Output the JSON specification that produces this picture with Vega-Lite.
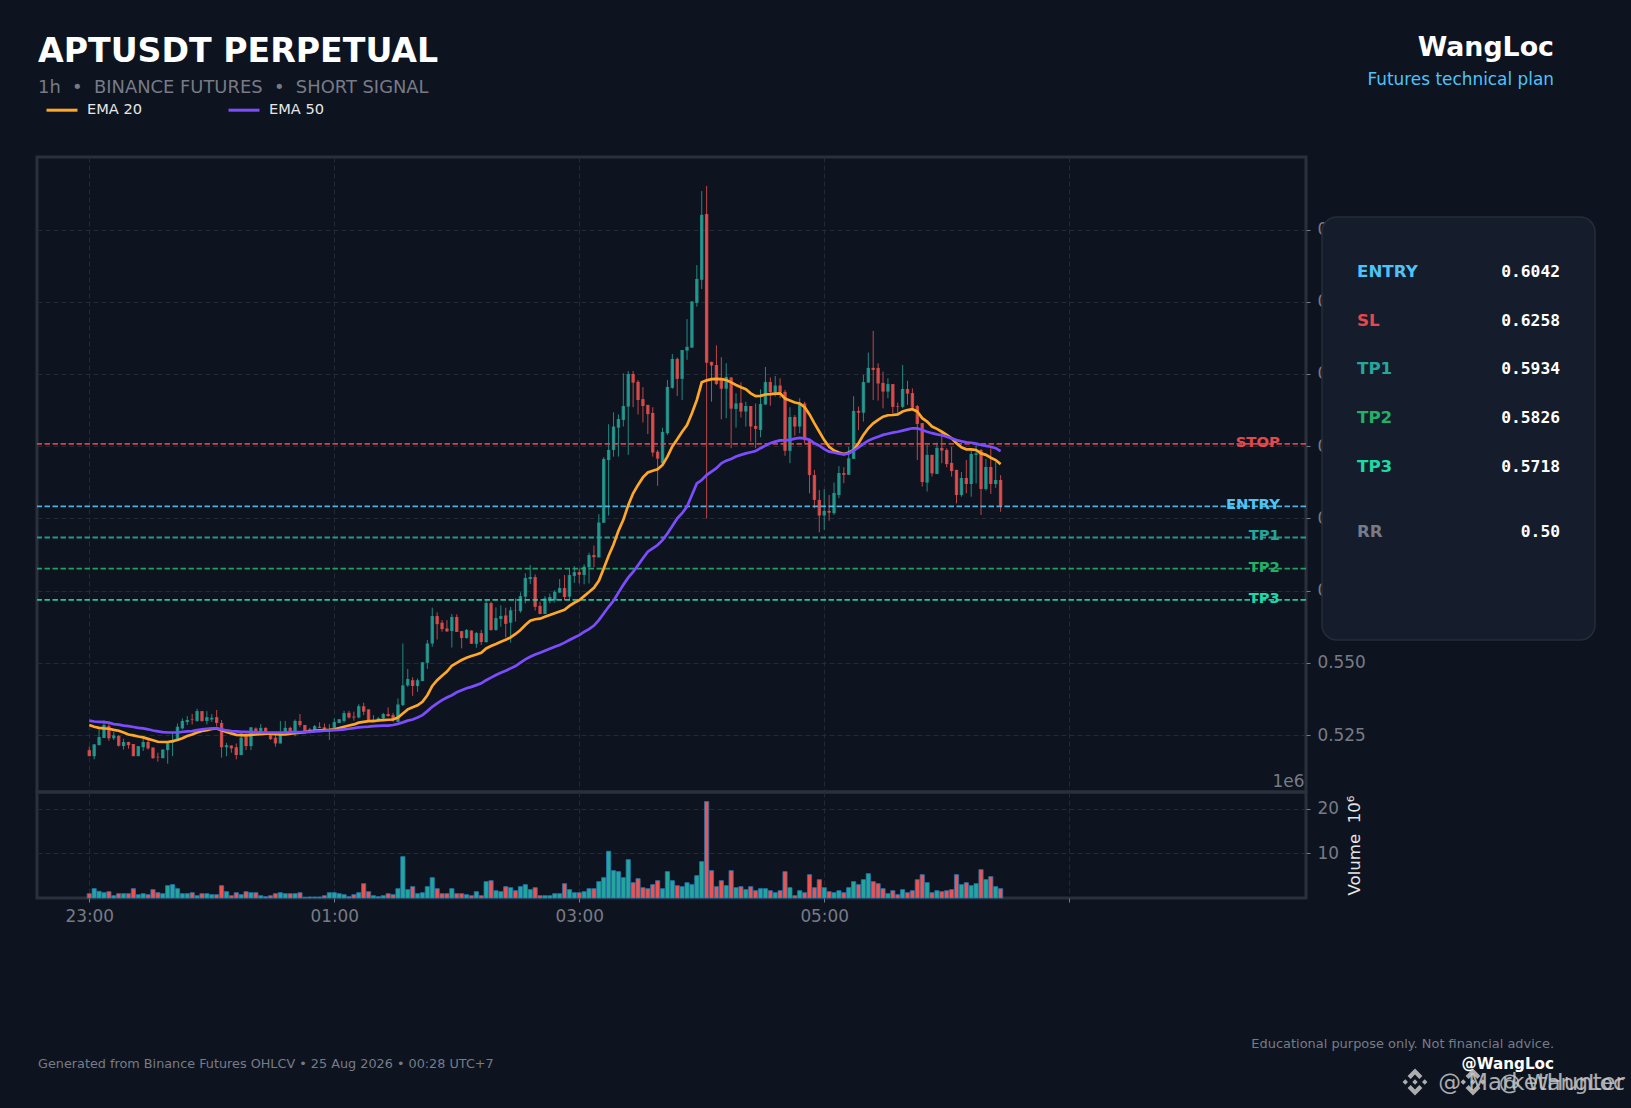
{
"$schema":"https://vega.github.io/schema/vega-lite/v6.json",
"autosize":{"type":"none"},
"padding":{"left":37,"top":157,"right":1594,"bottom":951},
"background":"#0d1420",
"config":{"font":"DejaVu Sans","view":{"stroke":null},"axis":{"labelFont":"DejaVu Sans","labelFontSize":16.9,"labelColor":"#787b86","tickColor":"#787b86","tickSize":4,"gridColor":"#232935","gridDash":[5,3],"gridWidth":1,"domain":false}},
"datasets":{
"levels":[
{"level":"ENTRY","tag":"ENTRY","price":0.6042},
{"level":"SL","tag":"STOP","price":0.6258},
{"level":"TP1","tag":"TP1","price":0.5934},
{"level":"TP2","tag":"TP2","price":0.5826},
{"level":"TP3","tag":"TP3","price":0.5718},
{"level":"RR","price":0.5}
],
"candles":[
{"i":0,"o":0.5198,"h":0.5210,"l":0.5177,"c":0.5177,"v":0.97,"e20":0.5285,"e50":0.5300},
{"i":1,"o":0.5177,"h":0.5218,"l":0.5166,"c":0.5218,"v":2.09,"e20":0.5279,"e50":0.5297},
{"i":2,"o":0.5215,"h":0.5270,"l":0.5215,"c":0.5243,"v":1.49,"e20":0.5275,"e50":0.5296},
{"i":3,"o":0.5240,"h":0.5302,"l":0.5240,"c":0.5285,"v":1.19,"e20":0.5273,"e50":0.5295},
{"i":4,"o":0.5281,"h":0.5290,"l":0.5230,"c":0.5239,"v":1.42,"e20":0.5272,"e50":0.5293},
{"i":5,"o":0.5239,"h":0.5261,"l":0.5233,"c":0.5249,"v":0.52,"e20":0.5268,"e50":0.5288},
{"i":6,"o":0.5247,"h":0.5250,"l":0.5210,"c":0.5213,"v":0.97,"e20":0.5265,"e50":0.5286},
{"i":7,"o":0.5212,"h":0.5237,"l":0.5200,"c":0.5226,"v":0.97,"e20":0.5259,"e50":0.5283},
{"i":8,"o":0.5226,"h":0.5227,"l":0.5203,"c":0.5215,"v":0.97,"e20":0.5252,"e50":0.5281},
{"i":9,"o":0.5219,"h":0.5219,"l":0.5177,"c":0.5177,"v":2.09,"e20":0.5249,"e50":0.5278},
{"i":10,"o":0.5177,"h":0.5212,"l":0.5177,"c":0.5212,"v":0.75,"e20":0.5245,"e50":0.5275},
{"i":11,"o":0.5208,"h":0.5238,"l":0.5195,"c":0.5226,"v":0.97,"e20":0.5242,"e50":0.5273},
{"i":12,"o":0.5226,"h":0.5233,"l":0.5200,"c":0.5204,"v":0.75,"e20":0.5237,"e50":0.5270},
{"i":13,"o":0.5207,"h":0.5207,"l":0.5168,"c":0.5170,"v":1.87,"e20":0.5232,"e50":0.5266},
{"i":14,"o":0.5175,"h":0.5189,"l":0.5158,"c":0.5173,"v":1.19,"e20":0.5227,"e50":0.5263},
{"i":15,"o":0.5170,"h":0.5200,"l":0.5170,"c":0.5200,"v":0.97,"e20":0.5226,"e50":0.5260},
{"i":16,"o":0.5198,"h":0.5227,"l":0.5151,"c":0.5223,"v":2.76,"e20":0.5226,"e50":0.5259},
{"i":17,"o":0.5223,"h":0.5261,"l":0.5177,"c":0.5226,"v":2.99,"e20":0.5229,"e50":0.5259},
{"i":18,"o":0.5233,"h":0.5290,"l":0.5233,"c":0.5279,"v":2.09,"e20":0.5233,"e50":0.5259},
{"i":19,"o":0.5273,"h":0.5308,"l":0.5270,"c":0.5299,"v":0.97,"e20":0.5239,"e50":0.5261},
{"i":20,"o":0.5295,"h":0.5316,"l":0.5285,"c":0.5302,"v":0.97,"e20":0.5247,"e50":0.5263},
{"i":21,"o":0.5304,"h":0.5323,"l":0.5287,"c":0.5302,"v":1.19,"e20":0.5252,"e50":0.5264},
{"i":22,"o":0.5299,"h":0.5341,"l":0.5296,"c":0.5333,"v":0.52,"e20":0.5259,"e50":0.5267},
{"i":23,"o":0.5333,"h":0.5333,"l":0.5296,"c":0.5299,"v":0.97,"e20":0.5264,"e50":0.5270},
{"i":24,"o":0.5299,"h":0.5333,"l":0.5287,"c":0.5312,"v":0.97,"e20":0.5267,"e50":0.5272},
{"i":25,"o":0.5304,"h":0.5323,"l":0.5296,"c":0.5310,"v":0.75,"e20":0.5271,"e50":0.5273},
{"i":26,"o":0.5312,"h":0.5337,"l":0.5279,"c":0.5292,"v":0.75,"e20":0.5273,"e50":0.5273},
{"i":27,"o":0.5292,"h":0.5302,"l":0.5172,"c":0.5208,"v":2.76,"e20":0.5267,"e50":0.5270},
{"i":28,"o":0.5208,"h":0.5223,"l":0.5177,"c":0.5215,"v":1.42,"e20":0.5261,"e50":0.5266},
{"i":29,"o":0.5214,"h":0.5214,"l":0.5189,"c":0.5204,"v":0.52,"e20":0.5256,"e50":0.5264},
{"i":30,"o":0.5208,"h":0.5221,"l":0.5166,"c":0.5181,"v":1.19,"e20":0.5251,"e50":0.5263},
{"i":31,"o":0.5181,"h":0.5261,"l":0.5180,"c":0.5241,"v":0.75,"e20":0.5250,"e50":0.5261},
{"i":32,"o":0.5244,"h":0.5256,"l":0.5198,"c":0.5212,"v":1.42,"e20":0.5249,"e50":0.5261},
{"i":33,"o":0.5212,"h":0.5277,"l":0.5198,"c":0.5277,"v":1.19,"e20":0.5251,"e50":0.5260},
{"i":34,"o":0.5273,"h":0.5277,"l":0.5256,"c":0.5261,"v":1.19,"e20":0.5252,"e50":0.5260},
{"i":35,"o":0.5261,"h":0.5288,"l":0.5256,"c":0.5275,"v":0.52,"e20":0.5253,"e50":0.5259},
{"i":36,"o":0.5275,"h":0.5277,"l":0.5259,"c":0.5261,"v":0.30,"e20":0.5255,"e50":0.5259},
{"i":37,"o":0.5259,"h":0.5259,"l":0.5233,"c":0.5236,"v":0.52,"e20":0.5255,"e50":0.5259},
{"i":38,"o":0.5241,"h":0.5256,"l":0.5210,"c":0.5221,"v":0.97,"e20":0.5253,"e50":0.5259},
{"i":39,"o":0.5221,"h":0.5299,"l":0.5221,"c":0.5258,"v":1.19,"e20":0.5252,"e50":0.5259},
{"i":40,"o":0.5256,"h":0.5299,"l":0.5256,"c":0.5275,"v":0.97,"e20":0.5252,"e50":0.5259},
{"i":41,"o":0.5275,"h":0.5279,"l":0.5256,"c":0.5261,"v":0.97,"e20":0.5255,"e50":0.5260},
{"i":42,"o":0.5261,"h":0.5304,"l":0.5246,"c":0.5299,"v":0.97,"e20":0.5257,"e50":0.5260},
{"i":43,"o":0.5299,"h":0.5323,"l":0.5277,"c":0.5285,"v":1.19,"e20":0.5258,"e50":0.5260},
{"i":44,"o":0.5285,"h":0.5285,"l":0.5256,"c":0.5261,"v":0.15,"e20":0.5260,"e50":0.5261},
{"i":45,"o":0.5259,"h":0.5275,"l":0.5256,"c":0.5270,"v":0.22,"e20":0.5263,"e50":0.5261},
{"i":46,"o":0.5261,"h":0.5285,"l":0.5259,"c":0.5281,"v":0.22,"e20":0.5265,"e50":0.5263},
{"i":47,"o":0.5279,"h":0.5294,"l":0.5275,"c":0.5275,"v":0.22,"e20":0.5266,"e50":0.5264},
{"i":48,"o":0.5277,"h":0.5290,"l":0.5261,"c":0.5270,"v":0.52,"e20":0.5267,"e50":0.5265},
{"i":49,"o":0.5265,"h":0.5288,"l":0.5233,"c":0.5270,"v":1.19,"e20":0.5268,"e50":0.5266},
{"i":50,"o":0.5275,"h":0.5308,"l":0.5270,"c":0.5295,"v":1.19,"e20":0.5270,"e50":0.5267},
{"i":51,"o":0.5292,"h":0.5305,"l":0.5292,"c":0.5305,"v":0.97,"e20":0.5274,"e50":0.5268},
{"i":52,"o":0.5299,"h":0.5334,"l":0.5293,"c":0.5326,"v":0.75,"e20":0.5279,"e50":0.5270},
{"i":53,"o":0.5327,"h":0.5334,"l":0.5307,"c":0.5311,"v":0.30,"e20":0.5283,"e50":0.5272},
{"i":54,"o":0.5314,"h":0.5331,"l":0.5300,"c":0.5311,"v":0.75,"e20":0.5287,"e50":0.5274},
{"i":55,"o":0.5311,"h":0.5357,"l":0.5308,"c":0.5350,"v":1.19,"e20":0.5293,"e50":0.5277},
{"i":56,"o":0.5350,"h":0.5362,"l":0.5319,"c":0.5331,"v":3.21,"e20":0.5296,"e50":0.5278},
{"i":57,"o":0.5339,"h":0.5339,"l":0.5299,"c":0.5299,"v":1.42,"e20":0.5298,"e50":0.5279},
{"i":58,"o":0.5300,"h":0.5319,"l":0.5296,"c":0.5304,"v":0.52,"e20":0.5298,"e50":0.5281},
{"i":59,"o":0.5302,"h":0.5313,"l":0.5296,"c":0.5308,"v":0.30,"e20":0.5301,"e50":0.5282},
{"i":60,"o":0.5308,"h":0.5327,"l":0.5302,"c":0.5323,"v":0.52,"e20":0.5302,"e50":0.5283},
{"i":61,"o":0.5323,"h":0.5346,"l":0.5313,"c":0.5316,"v":0.97,"e20":0.5303,"e50":0.5283},
{"i":62,"o":0.5319,"h":0.5327,"l":0.5296,"c":0.5302,"v":0.75,"e20":0.5304,"e50":0.5285},
{"i":63,"o":0.5296,"h":0.5377,"l":0.5296,"c":0.5356,"v":2.09,"e20":0.5311,"e50":0.5289},
{"i":64,"o":0.5354,"h":0.5567,"l":0.5350,"c":0.5422,"v":9.25,"e20":0.5325,"e50":0.5294},
{"i":65,"o":0.5422,"h":0.5479,"l":0.5417,"c":0.5444,"v":1.87,"e20":0.5339,"e50":0.5300},
{"i":66,"o":0.5440,"h":0.5450,"l":0.5386,"c":0.5420,"v":2.54,"e20":0.5346,"e50":0.5304},
{"i":67,"o":0.5420,"h":0.5446,"l":0.5400,"c":0.5440,"v":0.97,"e20":0.5353,"e50":0.5311},
{"i":68,"o":0.5437,"h":0.5502,"l":0.5437,"c":0.5502,"v":1.19,"e20":0.5365,"e50":0.5319},
{"i":69,"o":0.5500,"h":0.5579,"l":0.5479,"c":0.5567,"v":2.54,"e20":0.5388,"e50":0.5333},
{"i":70,"o":0.5567,"h":0.5691,"l":0.5556,"c":0.5662,"v":4.55,"e20":0.5420,"e50":0.5348},
{"i":71,"o":0.5662,"h":0.5675,"l":0.5581,"c":0.5634,"v":2.09,"e20":0.5440,"e50":0.5360},
{"i":72,"o":0.5639,"h":0.5648,"l":0.5608,"c":0.5617,"v":0.97,"e20":0.5455,"e50":0.5371},
{"i":73,"o":0.5619,"h":0.5648,"l":0.5607,"c":0.5609,"v":0.97,"e20":0.5470,"e50":0.5380},
{"i":74,"o":0.5610,"h":0.5669,"l":0.5553,"c":0.5659,"v":2.09,"e20":0.5490,"e50":0.5388},
{"i":75,"o":0.5659,"h":0.5668,"l":0.5607,"c":0.5607,"v":0.97,"e20":0.5500,"e50":0.5398},
{"i":76,"o":0.5610,"h":0.5610,"l":0.5550,"c":0.5586,"v":0.97,"e20":0.5510,"e50":0.5405},
{"i":77,"o":0.5586,"h":0.5617,"l":0.5584,"c":0.5614,"v":0.75,"e20":0.5518,"e50":0.5412},
{"i":78,"o":0.5612,"h":0.5612,"l":0.5566,"c":0.5566,"v":0.52,"e20":0.5524,"e50":0.5417},
{"i":79,"o":0.5566,"h":0.5607,"l":0.5552,"c":0.5603,"v":1.42,"e20":0.5529,"e50":0.5423},
{"i":80,"o":0.5603,"h":0.5614,"l":0.5562,"c":0.5572,"v":0.52,"e20":0.5535,"e50":0.5429},
{"i":81,"o":0.5572,"h":0.5717,"l":0.5570,"c":0.5707,"v":3.66,"e20":0.5550,"e50":0.5440},
{"i":82,"o":0.5707,"h":0.5712,"l":0.5611,"c":0.5614,"v":3.88,"e20":0.5558,"e50":0.5449},
{"i":83,"o":0.5614,"h":0.5692,"l":0.5611,"c":0.5655,"v":1.64,"e20":0.5565,"e50":0.5458},
{"i":84,"o":0.5652,"h":0.5699,"l":0.5625,"c":0.5662,"v":1.42,"e20":0.5573,"e50":0.5466},
{"i":85,"o":0.5664,"h":0.5691,"l":0.5588,"c":0.5635,"v":2.54,"e20":0.5580,"e50":0.5473},
{"i":86,"o":0.5639,"h":0.5694,"l":0.5570,"c":0.5682,"v":2.31,"e20":0.5588,"e50":0.5481},
{"i":87,"o":0.5683,"h":0.5723,"l":0.5643,"c":0.5682,"v":1.64,"e20":0.5600,"e50":0.5489},
{"i":88,"o":0.5679,"h":0.5744,"l":0.5674,"c":0.5731,"v":2.54,"e20":0.5614,"e50":0.5501},
{"i":89,"o":0.5729,"h":0.5810,"l":0.5706,"c":0.5794,"v":2.99,"e20":0.5631,"e50":0.5512},
{"i":90,"o":0.5790,"h":0.5839,"l":0.5773,"c":0.5797,"v":1.87,"e20":0.5646,"e50":0.5521},
{"i":91,"o":0.5797,"h":0.5806,"l":0.5681,"c":0.5694,"v":2.31,"e20":0.5651,"e50":0.5529},
{"i":92,"o":0.5697,"h":0.5712,"l":0.5669,"c":0.5669,"v":0.52,"e20":0.5653,"e50":0.5535},
{"i":93,"o":0.5669,"h":0.5731,"l":0.5669,"c":0.5723,"v":0.52,"e20":0.5660,"e50":0.5542},
{"i":94,"o":0.5715,"h":0.5740,"l":0.5706,"c":0.5728,"v":0.52,"e20":0.5666,"e50":0.5549},
{"i":95,"o":0.5717,"h":0.5752,"l":0.5709,"c":0.5746,"v":0.97,"e20":0.5672,"e50":0.5556},
{"i":96,"o":0.5743,"h":0.5790,"l":0.5743,"c":0.5759,"v":0.97,"e20":0.5678,"e50":0.5562},
{"i":97,"o":0.5759,"h":0.5804,"l":0.5717,"c":0.5728,"v":3.21,"e20":0.5684,"e50":0.5570},
{"i":98,"o":0.5729,"h":0.5827,"l":0.5717,"c":0.5804,"v":1.87,"e20":0.5697,"e50":0.5579},
{"i":99,"o":0.5801,"h":0.5835,"l":0.5777,"c":0.5814,"v":1.19,"e20":0.5708,"e50":0.5588},
{"i":100,"o":0.5814,"h":0.5827,"l":0.5775,"c":0.5805,"v":1.19,"e20":0.5717,"e50":0.5596},
{"i":101,"o":0.5804,"h":0.5841,"l":0.5772,"c":0.5833,"v":1.42,"e20":0.5731,"e50":0.5607},
{"i":102,"o":0.5831,"h":0.5881,"l":0.5775,"c":0.5873,"v":2.09,"e20":0.5745,"e50":0.5617},
{"i":103,"o":0.5873,"h":0.5906,"l":0.5831,"c":0.5866,"v":2.09,"e20":0.5760,"e50":0.5629},
{"i":104,"o":0.5865,"h":0.6015,"l":0.5865,"c":0.5986,"v":3.66,"e20":0.5784,"e50":0.5648},
{"i":105,"o":0.5985,"h":0.6212,"l":0.5985,"c":0.6206,"v":4.55,"e20":0.5827,"e50":0.5671},
{"i":106,"o":0.6202,"h":0.6326,"l":0.6010,"c":0.6237,"v":10.45,"e20":0.5871,"e50":0.5694},
{"i":107,"o":0.6237,"h":0.6367,"l":0.6214,"c":0.6318,"v":6.12,"e20":0.5910,"e50":0.5715},
{"i":108,"o":0.6314,"h":0.6360,"l":0.6214,"c":0.6344,"v":5.90,"e20":0.5957,"e50":0.5743},
{"i":109,"o":0.6341,"h":0.6502,"l":0.6318,"c":0.6389,"v":4.55,"e20":0.5995,"e50":0.5770},
{"i":110,"o":0.6387,"h":0.6510,"l":0.6220,"c":0.6500,"v":8.58,"e20":0.6046,"e50":0.5795},
{"i":111,"o":0.6500,"h":0.6510,"l":0.6385,"c":0.6470,"v":3.43,"e20":0.6087,"e50":0.5815},
{"i":112,"o":0.6473,"h":0.6479,"l":0.6360,"c":0.6410,"v":4.33,"e20":0.6116,"e50":0.5838},
{"i":113,"o":0.6413,"h":0.6454,"l":0.6332,"c":0.6389,"v":2.31,"e20":0.6142,"e50":0.5862},
{"i":114,"o":0.6393,"h":0.6393,"l":0.6292,"c":0.6361,"v":2.09,"e20":0.6159,"e50":0.5885},
{"i":115,"o":0.6365,"h":0.6385,"l":0.6214,"c":0.6228,"v":2.99,"e20":0.6165,"e50":0.5896},
{"i":116,"o":0.6231,"h":0.6237,"l":0.6113,"c":0.6207,"v":3.88,"e20":0.6170,"e50":0.5908},
{"i":117,"o":0.6191,"h":0.6314,"l":0.6191,"c":0.6299,"v":2.09,"e20":0.6185,"e50":0.5925},
{"i":118,"o":0.6295,"h":0.6479,"l":0.6289,"c":0.6455,"v":5.90,"e20":0.6214,"e50":0.5948},
{"i":119,"o":0.6452,"h":0.6569,"l":0.6449,"c":0.6552,"v":3.88,"e20":0.6249,"e50":0.5974},
{"i":120,"o":0.6552,"h":0.6557,"l":0.6424,"c":0.6483,"v":2.76,"e20":0.6274,"e50":0.6000},
{"i":121,"o":0.6483,"h":0.6583,"l":0.6410,"c":0.6583,"v":2.54,"e20":0.6300,"e50":0.6018},
{"i":122,"o":0.6581,"h":0.6690,"l":0.6549,"c":0.6594,"v":3.43,"e20":0.6323,"e50":0.6041},
{"i":123,"o":0.6591,"h":0.6751,"l":0.6591,"c":0.6751,"v":2.99,"e20":0.6364,"e50":0.6081},
{"i":124,"o":0.6746,"h":0.6877,"l":0.6733,"c":0.6829,"v":5.00,"e20":0.6410,"e50":0.6121},
{"i":125,"o":0.6826,"h":0.7133,"l":0.6794,"c":0.7051,"v":8.13,"e20":0.6471,"e50":0.6133},
{"i":126,"o":0.7054,"h":0.7151,"l":0.6000,"c":0.6539,"v":21.57,"e20":0.6478,"e50":0.6150},
{"i":127,"o":0.6542,"h":0.6542,"l":0.6404,"c":0.6529,"v":6.12,"e20":0.6482,"e50":0.6162},
{"i":128,"o":0.6531,"h":0.6599,"l":0.6462,"c":0.6465,"v":2.54,"e20":0.6483,"e50":0.6174},
{"i":129,"o":0.6479,"h":0.6558,"l":0.6343,"c":0.6449,"v":3.88,"e20":0.6482,"e50":0.6191},
{"i":130,"o":0.6449,"h":0.6537,"l":0.6347,"c":0.6490,"v":2.76,"e20":0.6479,"e50":0.6200},
{"i":131,"o":0.6488,"h":0.6488,"l":0.6243,"c":0.6380,"v":6.12,"e20":0.6471,"e50":0.6206},
{"i":132,"o":0.6379,"h":0.6433,"l":0.6314,"c":0.6398,"v":2.31,"e20":0.6462,"e50":0.6214},
{"i":133,"o":0.6400,"h":0.6471,"l":0.6349,"c":0.6370,"v":2.54,"e20":0.6454,"e50":0.6220},
{"i":134,"o":0.6370,"h":0.6404,"l":0.6318,"c":0.6389,"v":1.87,"e20":0.6447,"e50":0.6225},
{"i":135,"o":0.6389,"h":0.6389,"l":0.6266,"c":0.6318,"v":2.54,"e20":0.6433,"e50":0.6229},
{"i":136,"o":0.6320,"h":0.6398,"l":0.6243,"c":0.6310,"v":1.64,"e20":0.6423,"e50":0.6233},
{"i":137,"o":0.6306,"h":0.6447,"l":0.6281,"c":0.6396,"v":2.09,"e20":0.6424,"e50":0.6243},
{"i":138,"o":0.6394,"h":0.6524,"l":0.6394,"c":0.6472,"v":2.09,"e20":0.6429,"e50":0.6252},
{"i":139,"o":0.6472,"h":0.6488,"l":0.6390,"c":0.6437,"v":1.64,"e20":0.6430,"e50":0.6260},
{"i":140,"o":0.6436,"h":0.6493,"l":0.6422,"c":0.6460,"v":1.19,"e20":0.6432,"e50":0.6266},
{"i":141,"o":0.6460,"h":0.6485,"l":0.6416,"c":0.6436,"v":1.64,"e20":0.6433,"e50":0.6270},
{"i":142,"o":0.6438,"h":0.6445,"l":0.6217,"c":0.6234,"v":5.90,"e20":0.6415,"e50":0.6270},
{"i":143,"o":0.6234,"h":0.6385,"l":0.6191,"c":0.6351,"v":2.31,"e20":0.6408,"e50":0.6272},
{"i":144,"o":0.6351,"h":0.6358,"l":0.6286,"c":0.6318,"v":0.52,"e20":0.6401,"e50":0.6276},
{"i":145,"o":0.6318,"h":0.6416,"l":0.6295,"c":0.6398,"v":1.64,"e20":0.6398,"e50":0.6279},
{"i":146,"o":0.6398,"h":0.6404,"l":0.6260,"c":0.6271,"v":1.19,"e20":0.6385,"e50":0.6277},
{"i":147,"o":0.6271,"h":0.6271,"l":0.6087,"c":0.6150,"v":5.22,"e20":0.6360,"e50":0.6272},
{"i":148,"o":0.6150,"h":0.6168,"l":0.6035,"c":0.6064,"v":2.31,"e20":0.6329,"e50":0.6260},
{"i":149,"o":0.6064,"h":0.6098,"l":0.5952,"c":0.6010,"v":4.10,"e20":0.6300,"e50":0.6252},
{"i":150,"o":0.6010,"h":0.6101,"l":0.5960,"c":0.6026,"v":2.31,"e20":0.6271,"e50":0.6240},
{"i":151,"o":0.6026,"h":0.6081,"l":0.5992,"c":0.6020,"v":1.42,"e20":0.6248,"e50":0.6231},
{"i":152,"o":0.6018,"h":0.6124,"l":0.6012,"c":0.6088,"v":1.19,"e20":0.6235,"e50":0.6228},
{"i":153,"o":0.6081,"h":0.6181,"l":0.6070,"c":0.6157,"v":1.64,"e20":0.6228,"e50":0.6224},
{"i":154,"o":0.6157,"h":0.6177,"l":0.6122,"c":0.6151,"v":1.19,"e20":0.6223,"e50":0.6222},
{"i":155,"o":0.6151,"h":0.6248,"l":0.6151,"c":0.6208,"v":2.31,"e20":0.6228,"e50":0.6225},
{"i":156,"o":0.6206,"h":0.6423,"l":0.6206,"c":0.6372,"v":3.66,"e20":0.6237,"e50":0.6235},
{"i":157,"o":0.6372,"h":0.6387,"l":0.6306,"c":0.6366,"v":2.99,"e20":0.6260,"e50":0.6246},
{"i":158,"o":0.6366,"h":0.6497,"l":0.6335,"c":0.6472,"v":4.10,"e20":0.6289,"e50":0.6258},
{"i":159,"o":0.6470,"h":0.6574,"l":0.6470,"c":0.6521,"v":5.45,"e20":0.6312,"e50":0.6269},
{"i":160,"o":0.6521,"h":0.6649,"l":0.6410,"c":0.6514,"v":3.66,"e20":0.6329,"e50":0.6277},
{"i":161,"o":0.6521,"h":0.6537,"l":0.6408,"c":0.6467,"v":3.21,"e20":0.6341,"e50":0.6283},
{"i":162,"o":0.6469,"h":0.6508,"l":0.6381,"c":0.6439,"v":2.09,"e20":0.6352,"e50":0.6289},
{"i":163,"o":0.6439,"h":0.6485,"l":0.6416,"c":0.6465,"v":0.97,"e20":0.6357,"e50":0.6293},
{"i":164,"o":0.6465,"h":0.6465,"l":0.6360,"c":0.6386,"v":1.64,"e20":0.6358,"e50":0.6297},
{"i":165,"o":0.6389,"h":0.6401,"l":0.6364,"c":0.6387,"v":0.75,"e20":0.6360,"e50":0.6300},
{"i":166,"o":0.6386,"h":0.6531,"l":0.6381,"c":0.6448,"v":1.87,"e20":0.6370,"e50":0.6304},
{"i":167,"o":0.6448,"h":0.6476,"l":0.6393,"c":0.6432,"v":1.19,"e20":0.6375,"e50":0.6308},
{"i":168,"o":0.6434,"h":0.6450,"l":0.6375,"c":0.6383,"v":1.64,"e20":0.6378,"e50":0.6312},
{"i":169,"o":0.6389,"h":0.6393,"l":0.6202,"c":0.6327,"v":4.10,"e20":0.6370,"e50":0.6312},
{"i":170,"o":0.6330,"h":0.6330,"l":0.6110,"c":0.6126,"v":5.22,"e20":0.6347,"e50":0.6306},
{"i":171,"o":0.6124,"h":0.6254,"l":0.6093,"c":0.6220,"v":3.43,"e20":0.6335,"e50":0.6300},
{"i":172,"o":0.6220,"h":0.6220,"l":0.6145,"c":0.6156,"v":1.19,"e20":0.6318,"e50":0.6295},
{"i":173,"o":0.6154,"h":0.6262,"l":0.6154,"c":0.6244,"v":1.64,"e20":0.6310,"e50":0.6291},
{"i":174,"o":0.6244,"h":0.6295,"l":0.6191,"c":0.6235,"v":1.42,"e20":0.6300,"e50":0.6288},
{"i":175,"o":0.6237,"h":0.6243,"l":0.6177,"c":0.6188,"v":1.64,"e20":0.6289,"e50":0.6283},
{"i":176,"o":0.6192,"h":0.6248,"l":0.6145,"c":0.6164,"v":1.87,"e20":0.6277,"e50":0.6277},
{"i":177,"o":0.6168,"h":0.6168,"l":0.6052,"c":0.6081,"v":5.22,"e20":0.6260,"e50":0.6271},
{"i":178,"o":0.6081,"h":0.6161,"l":0.6075,"c":0.6140,"v":2.99,"e20":0.6246,"e50":0.6267},
{"i":179,"o":0.6140,"h":0.6202,"l":0.6087,"c":0.6119,"v":3.43,"e20":0.6239,"e50":0.6263},
{"i":180,"o":0.6119,"h":0.6243,"l":0.6075,"c":0.6223,"v":2.76,"e20":0.6239,"e50":0.6262},
{"i":181,"o":0.6220,"h":0.6260,"l":0.6121,"c":0.6225,"v":3.21,"e20":0.6237,"e50":0.6259},
{"i":182,"o":0.6237,"h":0.6240,"l":0.6012,"c":0.6102,"v":6.34,"e20":0.6225,"e50":0.6254},
{"i":183,"o":0.6102,"h":0.6206,"l":0.6096,"c":0.6178,"v":4.10,"e20":0.6220,"e50":0.6251},
{"i":184,"o":0.6178,"h":0.6243,"l":0.6085,"c":0.6119,"v":4.78,"e20":0.6210,"e50":0.6248},
{"i":185,"o":0.6119,"h":0.6196,"l":0.6106,"c":0.6133,"v":2.54,"e20":0.6202,"e50":0.6243},
{"i":186,"o":0.6133,"h":0.6150,"l":0.6023,"c":0.6044,"v":2.09,"e20":0.6188,"e50":0.6233}
]},
"bounds":"flush",
"spacing":1285,
"hconcat":[
{"bounds":"flush","spacing":0,"vconcat":[
{"width":1269,"height":635,
"view":{"stroke":"#2a303c","strokeWidth":3},
"layer":[
{"data":{"name":"candles"},"mark":{"type":"rule","strokeWidth":1,"opacity":0.8},
"encoding":{
"x":{"field":"i","type":"quantitative","scale":{"domain":[-10.67,248.33],"nice":false,"zero":false},"axis":{"values":[0,50,100,150,200],"labels":false,"ticks":false,"grid":true,"title":null}},
"y":{"field":"l","type":"quantitative","scale":{"domain":[0.5053,0.7251],"nice":false,"zero":false},"axis":{"orient":"right","values":[0.525,0.55,0.575,0.6,0.625,0.65,0.675,0.7],"format":".3f","grid":true,"title":null,"labelPadding":7}},
"y2":{"field":"h"},
"color":{"condition":{"test":"datum.c>=datum.o","value":"#26a69a"},"value":"#ef5350"}}},
{"data":{"name":"candles"},"mark":{"type":"rule","strokeWidth":3.4,"opacity":0.8},
"encoding":{
"x":{"field":"i","type":"quantitative"},
"y":{"field":"o","type":"quantitative"},
"y2":{"field":"c"},
"color":{"condition":{"test":"datum.c>=datum.o","value":"#26a69a"},"value":"#ef5350"}}},
{"data":{"name":"levels"},"transform":[{"filter":"datum.tag"}],"mark":{"type":"rule","strokeWidth":1.8,"strokeDash":[5.5,2.5],"opacity":0.9},
"encoding":{
"y":{"field":"price","type":"quantitative"},
"color":{"field":"level","type":"nominal","scale":{"domain":["ENTRY","SL","TP1","TP2","TP3","RR"],"range":["#4fc3f7","#e5484d","#26a69a","#22b066","#1bdaa8","#787b86"]},"legend":null}}},
{"data":{"name":"candles"},"mark":{"type":"line","strokeWidth":2.7,"clip":true},
"encoding":{
"x":{"field":"i","type":"quantitative"},
"y":{"field":"e20","type":"quantitative"},
"stroke":{"datum":"EMA 20","type":"nominal","scale":{"domain":["EMA 20","EMA 50"],"range":["#ffa726","#7c4dff"]},
"legend":{"title":null,"orient":"none","legendX":8,"legendY":-64,"direction":"horizontal","columns":2,"symbolType":"stroke","symbolSize":960,"symbolStrokeWidth":3,"labelColor":"#e6e6e6","labelFontSize":14.6,"labelOffset":8,"columnPadding":79,"padding":0}}}},
{"data":{"name":"candles"},"mark":{"type":"line","strokeWidth":2.7,"clip":true},
"encoding":{
"x":{"field":"i","type":"quantitative"},
"y":{"field":"e50","type":"quantitative"},
"stroke":{"datum":"EMA 50","type":"nominal"}}},
{"data":{"name":"levels"},"transform":[{"filter":"datum.tag"}],"mark":{"type":"text","align":"right","baseline":"middle","fontWeight":"bold","fontSize":14.8,"dy":-1},
"encoding":{
"x":{"datum":243,"type":"quantitative"},
"y":{"field":"price","type":"quantitative"},
"text":{"field":"tag"},
"color":{"field":"level","type":"nominal","legend":null}}},
{"data":{"values":[{"note":"1e6"}]},"mark":{"type":"text","align":"right","baseline":"middle","fontSize":16.9,"color":"#787b86"},
"encoding":{
"x":{"datum":248,"type":"quantitative"},
"y":{"datum":0.5088,"type":"quantitative"},
"text":{"field":"note"}}},
{"data":{"values":[{"note":"APTUSDT PERPETUAL"}]},"mark":{"type":"text","align":"left","baseline":"middle","x":1,"y":-105,"fontSize":33.2,"fontWeight":"bold","color":"#ffffff"},"encoding":{"text":{"field":"note"}}},
{"data":{"values":[{"note":"1h\u00a0\u00a0•\u00a0\u00a0BINANCE FUTURES\u00a0\u00a0•\u00a0\u00a0SHORT SIGNAL"}]},"mark":{"type":"text","align":"left","baseline":"middle","x":1,"y":-69,"fontSize":17.9,"color":"#787b86"},"encoding":{"text":{"field":"note"}}}
]},
{"width":1269,"height":106,
"view":{"stroke":"#2a303c","strokeWidth":3},
"layer":[
{"data":{"name":"candles"},"mark":{"type":"bar","orient":"vertical","size":4.2,"stroke":"#1f77b4","strokeWidth":0.8},
"encoding":{
"x":{"field":"i","type":"quantitative","scale":{"domain":[-10.67,248.33],"nice":false,"zero":false,"padding":0},"axis":{"values":[0,50,100,150,200],"labelExpr":"datum.value==0?'23:00':datum.value==50?'01:00':datum.value==100?'03:00':datum.value==150?'05:00':''","grid":true,"title":null,"labelFlush":false,"labelPadding":6}},
"y":{"field":"v","type":"quantitative","scale":{"domain":[0,23.7],"nice":false},"axis":{"orient":"right","values":[10,20],"format":"d","grid":true,"title":"Volume\u00a0\u00a010⁶","titleColor":"#e6e6e6","titleFontSize":16.6,"titleFontWeight":"normal","titleAngle":270,"titlePadding":24,"labelPadding":7}},
"color":{"condition":{"test":"datum.c>=datum.o","value":"#26a69a"},"value":"#ef5350"}}},
{"data":{"values":[{"note":"Generated from Binance Futures OHLCV • 25 Aug 2026 • 00:28 UTC+7"}]},"mark":{"type":"text","align":"left","baseline":"middle","x":1,"y":272,"fontSize":12.8,"color":"#787b86"},"encoding":{"text":{"field":"note"}}}
]}
]},
{"width":273,"height":484,
"layer":[
{"data":{"values":[{"note":"panel"}]},"mark":{"type":"rect","x":0,"x2":273,"y":60,"y2":483,"cornerRadius":15,"fill":"#151c2b","stroke":"#262c38","strokeWidth":1.5},"encoding":{}},
{"data":{"name":"levels"},"transform":[{"filter":"datum.tag"}],"mark":{"type":"text","align":"left","baseline":"middle","x":35,"fontSize":16.7,"fontWeight":"bold"},
"encoding":{
"y":{"field":"level","type":"nominal","scale":{"type":"point","padding":0,"domain":["ENTRY","SL","TP1","TP2","TP3","RR"],"range":[115,358.5]},"axis":null},
"text":{"field":"level"},
"color":{"field":"level","type":"nominal","legend":null}}},
{"data":{"name":"levels"},"transform":[{"filter":"datum.level=='RR'"}],"mark":{"type":"text","align":"left","baseline":"middle","x":35,"dy":16.5,"fontSize":16.7,"fontWeight":"bold"},
"encoding":{
"y":{"field":"level","type":"nominal"},
"text":{"field":"level"},
"color":{"field":"level","type":"nominal","legend":null}}},
{"data":{"name":"levels"},"transform":[{"filter":"datum.tag"}],"mark":{"type":"text","align":"right","baseline":"middle","x":238,"font":"DejaVu Sans Mono","fontSize":16.3,"fontWeight":"bold","color":"#ffffff"},
"encoding":{
"y":{"field":"level","type":"nominal"},
"text":{"field":"price","type":"quantitative","format":".4f"}}},
{"data":{"name":"levels"},"transform":[{"filter":"datum.level=='RR'"}],"mark":{"type":"text","align":"right","baseline":"middle","x":238,"dy":16.5,"font":"DejaVu Sans Mono","fontSize":16.3,"fontWeight":"bold","color":"#ffffff"},
"encoding":{
"y":{"field":"level","type":"nominal"},
"text":{"field":"price","type":"quantitative","format":".2f"}}},
{"data":{"values":[{"note":"WangLoc"}]},"mark":{"type":"text","align":"right","baseline":"middle","x":232,"y":-109,"fontSize":26.8,"fontWeight":"bold","color":"#ffffff"},"encoding":{"text":{"field":"note"}}},
{"data":{"values":[{"note":"Futures technical plan"}]},"mark":{"type":"text","align":"right","baseline":"middle","x":232,"y":-77,"fontSize":16.9,"color":"#4fc3f7"},"encoding":{"text":{"field":"note"}}},
{"data":{"values":[{"note":"Educational purpose only. Not financial advice."}]},"mark":{"type":"text","align":"right","baseline":"middle","x":232,"y":887,"fontSize":12.95,"color":"#787b86"},"encoding":{"text":{"field":"note"}}},
{"data":{"values":[{"note":"@WangLoc"}]},"mark":{"type":"text","align":"right","baseline":"middle","x":232,"y":907,"fontSize":15.2,"fontWeight":"bold","color":"#ffffff"},"encoding":{"text":{"field":"note"}}},
{"data":{"values":[{"note":"@ MarketHunter"}]},"mark":{"type":"text","align":"right","baseline":"middle","x":303,"y":926,"fontSize":22.8,"color":"#c8c8c8","opacity":0.85},"encoding":{"text":{"field":"note"}}},
{"data":{"values":[{"note":"@ WangLoc"}]},"mark":{"type":"text","align":"right","baseline":"middle","x":303,"y":926,"fontSize":21.7,"color":"#c8c8c8","opacity":0.85},"encoding":{"text":{"field":"note"}}},
{"data":{"values":[{"note":"logo"}]},"mark":{"type":"point","x":93,"y":925,"size":729,"filled":true,"opacity":0.85,"color":"#c8c8c8","shape":"M0 -1L0.55 -0.45L0.32 -0.23L0 -0.55L-0.32 -0.23L-0.55 -0.45ZM0 1L0.55 0.45L0.32 0.23L0 0.55L-0.32 0.23L-0.55 0.45ZM0 -0.2L0.2 0L0 0.2L-0.2 0ZM-0.72 -0.2L-0.52 0L-0.72 0.2L-0.92 0ZM0.72 -0.2L0.92 0L0.72 0.2L0.52 0Z"},"encoding":{}},
{"data":{"values":[{"note":"logo"}]},"mark":{"type":"point","x":151,"y":925,"size":729,"filled":true,"opacity":0.85,"color":"#c8c8c8","shape":"M0 -1L0.55 -0.45L0.32 -0.23L0 -0.55L-0.32 -0.23L-0.55 -0.45ZM0 1L0.55 0.45L0.32 0.23L0 0.55L-0.32 0.23L-0.55 0.45ZM0 -0.2L0.2 0L0 0.2L-0.2 0ZM-0.72 -0.2L-0.52 0L-0.72 0.2L-0.92 0ZM0.72 -0.2L0.92 0L0.72 0.2L0.52 0Z"},"encoding":{}}
]}
]
}
